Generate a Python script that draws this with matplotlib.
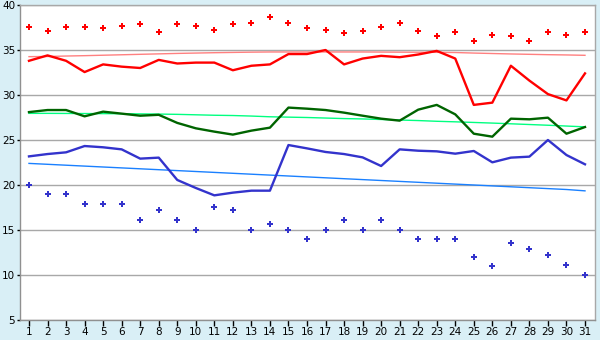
import matplotlib
matplotlib.use("Agg")
import matplotlib.pyplot as plt

days = list(range(1, 32))
x_labels = [str(d) for d in days]

rec_max = [37.6, 37.1, 37.6, 37.6, 37.5, 37.7, 37.9, 37.0, 37.9, 37.7,
           37.2, 37.9, 38.0, 38.7, 38.0, 37.5, 37.2, 36.9, 37.1, 37.6,
           38.0, 37.1, 36.6, 37.0, 36.0, 36.7, 36.6, 36.0, 37.0, 36.7, 37.0]
t_max = [33.8, 34.4, 33.8, 32.55, 33.4, 33.15, 33.0, 33.9, 33.5, 33.6,
         33.6, 32.75, 33.25, 33.4, 34.55, 34.55, 35.0, 33.4, 34.05, 34.35,
         34.2, 34.5, 34.9, 34.05, 28.9, 29.15, 33.25, 31.6, 30.1, 29.4, 32.4]
norm_max = [34.26, 34.28, 34.33, 34.37, 34.42, 34.47, 34.52, 34.57, 34.62, 34.66,
            34.7, 34.73, 34.76, 34.78, 34.78, 34.78, 34.78, 34.78, 34.78, 34.77,
            34.76, 34.75, 34.74, 34.72, 34.66, 34.61, 34.56, 34.52, 34.48, 34.45, 34.41]
t_mean = [28.1, 28.33, 28.33, 27.63, 28.15, 27.93, 27.7, 27.8, 26.9, 26.3,
          25.93, 25.6, 26.04, 26.37, 28.6, 28.48, 28.33, 28.04, 27.7, 27.37,
          27.15, 28.37, 28.9, 27.85, 25.7, 25.37, 27.37, 27.3, 27.48, 25.7, 26.44]
norm_mean = [27.96, 27.96, 27.95, 27.94, 27.93, 27.92, 27.9, 27.88, 27.85, 27.8,
             27.75, 27.72, 27.66, 27.58, 27.54, 27.5, 27.44, 27.38, 27.34, 27.28,
             27.22, 27.16, 27.08, 27.02, 26.95, 26.88, 26.8, 26.72, 26.64, 26.55, 26.46]
t_min = [23.18, 23.44, 23.63, 24.33, 24.19, 23.96, 22.93, 23.04, 20.56, 19.67,
         18.85, 19.15, 19.37, 19.37, 24.44, 24.07, 23.67, 23.44, 23.07, 22.11,
         23.96, 23.81, 23.74, 23.48, 23.78, 22.52, 23.04, 23.15, 25.0, 23.33, 22.3]
norm_min = [22.4, 22.3, 22.2, 22.1, 22.0, 21.9, 21.8, 21.7, 21.6, 21.5,
            21.4, 21.3, 21.2, 21.1, 21.0, 20.9, 20.8, 20.7, 20.6, 20.5,
            20.4, 20.3, 20.2, 20.1, 20.0, 19.9, 19.8, 19.7, 19.6, 19.5, 19.35]
rec_min = [19.96, 18.96, 18.96, 17.85, 17.85, 17.85, 16.07, 17.19, 16.07, 14.96,
           17.52, 17.19, 14.96, 15.63, 14.96, 13.96, 15.0, 16.07, 15.0, 16.07,
           15.0, 13.96, 14.0, 14.0, 11.96, 10.96, 13.52, 12.85, 12.19, 11.1, 9.96]

bg = "#d9eff6"
grid_c = "#a8a8a8"

fig = plt.figure(figsize=(6, 3.4), dpi=100, facecolor=bg)
ax = fig.add_axes([20/600, 20/340, 575/600, 315/340])
ax.set_facecolor("white")

ax.plot(days, norm_max, color="#ff8080", lw=1.0, zorder=3)
ax.plot(days, norm_mean, color="#00ff80", lw=1.0, zorder=3)
ax.plot(days, norm_min, color="#1a80ff", lw=1.0, zorder=3)
ax.plot(days, t_max, color="#ff0000", lw=1.7, zorder=4)
ax.plot(days, t_mean, color="#006400", lw=1.7, zorder=4)
ax.plot(days, t_min, color="#3333cc", lw=1.7, zorder=4)
ax.plot(days, rec_max, ls="none", marker="P", ms=5, color="#ff0000", mew=0, zorder=5)
ax.plot(days, rec_min, ls="none", marker="P", ms=5, color="#3333cc", mew=0, zorder=5)

ax.set_xlim(0.515, 31.54)
ax.set_ylim(5, 40)
ax.set_yticks(range(5, 41, 5))
ax.set_xticks(days)
ax.set_xticklabels(x_labels)
ax.yaxis.grid(True, color=grid_c, lw=1.0)
ax.set_axisbelow(True)
for s in ax.spines.values():
    s.set_color(grid_c)
    s.set_linewidth(1.0)
ax.spines["left"].set_color("#909090")
ax.spines["bottom"].set_color("#909090")
ax.tick_params(axis="y", colors="black", labelsize=7.5, length=2.5, width=1, pad=1)
ax.tick_params(axis="x", colors="black", labelsize=7.5, length=4.5, width=1, pad=0.5)

fig.savefig("out.png", dpi=100, facecolor=bg)
